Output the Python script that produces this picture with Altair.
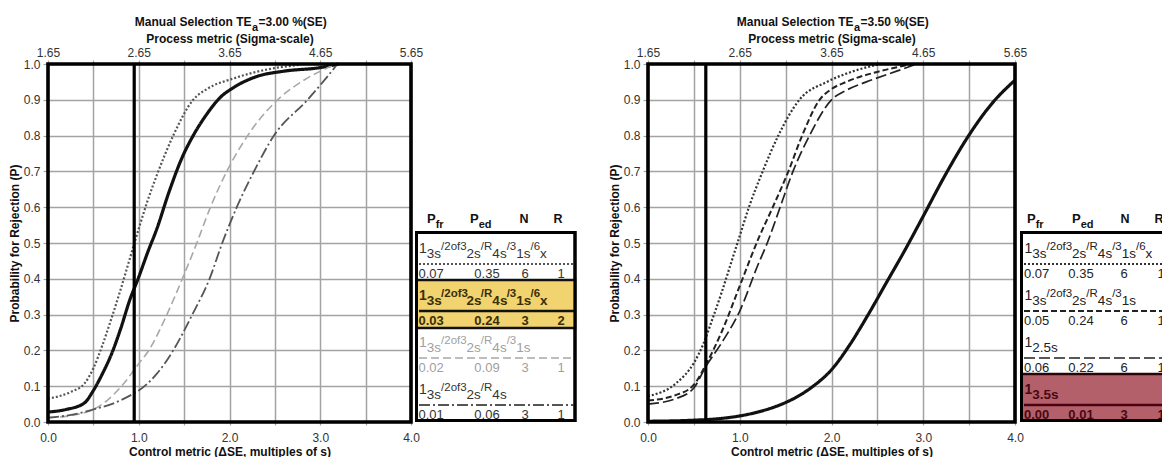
import altair as alt
import pandas as pd

FONT = "Liberation Sans"

# ---------------- data ----------------
# Left panel, TEa = 3.00 %
L_dot_x = [0, 0.25, 0.4, 0.5, 0.6, 0.7, 0.8, 0.9, 1.0, 1.1, 1.2, 1.38, 1.6, 1.75, 2.05, 2.42, 2.79]
L_dot_p = [0.065, 0.084, 0.107, 0.15, 0.215, 0.29, 0.37, 0.455, 0.54, 0.62, 0.69, 0.80, 0.90, 0.93, 0.96, 0.985, 0.998]
L_sol_x = [0, 0.2, 0.4, 0.5, 0.6, 0.7, 0.8, 0.9, 1.0, 1.1, 1.2, 1.33, 1.48, 1.6, 1.75, 1.9, 2.05, 2.3, 2.6, 3.0, 3.2]
L_sol_p = [0.028, 0.035, 0.053, 0.088, 0.135, 0.19, 0.26, 0.34, 0.405, 0.475, 0.54, 0.64, 0.74, 0.80, 0.86, 0.907, 0.935, 0.965, 0.98, 0.99, 1.0]
L_lgt_x = [0, 0.3, 0.5, 0.65, 0.81, 1.0, 1.11, 1.31, 1.48, 1.64, 1.79, 1.97, 2.2, 2.53, 2.79, 3.0, 3.19]
L_lgt_p = [0.012, 0.02, 0.035, 0.06, 0.10, 0.163, 0.20, 0.30, 0.40, 0.50, 0.60, 0.70, 0.80, 0.90, 0.95, 0.98, 1.0]
L_dsh_x = [0, 0.3, 0.5, 0.7, 0.94, 1.0, 1.2, 1.38, 1.59, 1.78, 1.92, 2.08, 2.27, 2.49, 2.86, 3.03, 3.19]
L_dsh_p = [0.012, 0.022, 0.035, 0.05, 0.079, 0.088, 0.135, 0.20, 0.30, 0.40, 0.50, 0.60, 0.70, 0.80, 0.90, 0.95, 1.0]

# Right panel, TEa = 3.50 %
R_dot_x = [0, 0.3, 0.5, 0.6, 0.7, 0.8, 0.9, 1.0, 1.1, 1.25, 1.42, 1.65, 1.95, 2.24, 2.53]
R_dot_p = [0.072, 0.107, 0.165, 0.216, 0.286, 0.36, 0.44, 0.52, 0.60, 0.70, 0.80, 0.90, 0.95, 0.98, 1.0]
R_sd_x = [0, 0.3, 0.5, 0.63, 0.8, 1.0, 1.2, 1.36, 1.53, 1.68, 1.87, 2.0, 2.16, 2.53, 2.89]
R_sd_p = [0.06, 0.075, 0.104, 0.16, 0.25, 0.38, 0.51, 0.60, 0.70, 0.80, 0.90, 0.93, 0.95, 0.98, 1.0]
R_ld_x = [0, 0.3, 0.5, 0.63, 0.8, 1.0, 1.2, 1.3, 1.44, 1.58, 1.76, 2.0, 2.15, 2.38, 2.71, 2.93]
R_ld_p = [0.05, 0.065, 0.095, 0.155, 0.22, 0.31, 0.44, 0.50, 0.60, 0.70, 0.80, 0.90, 0.925, 0.95, 0.98, 1.0]
R_sol_x = [0, 0.5, 0.8, 1.0, 1.2, 1.4, 1.6, 1.8, 2.0, 2.2, 2.4, 2.6, 2.8, 3.0, 3.24, 3.47, 3.75, 4.0]
R_sol_p = [0.002, 0.005, 0.01, 0.017, 0.028, 0.044, 0.067, 0.1, 0.146, 0.216, 0.30, 0.39, 0.48, 0.575, 0.69, 0.79, 0.89, 0.955]

crit_left = 0.95
crit_right = 0.63

# legend tables
left_rules = ["1_3s /2of3_2s /R_4s /3_1s /6_x", "1_3s /2of3_2s /R_4s /3_1s /6_x",
              "1_3s /2of3_2s /R_4s /3_1s", "1_3s /2of3_2s /R_4s"]
left_pfr = ["0.07", "0.03", "0.02", "0.01"]
left_ped = ["0.35", "0.24", "0.09", "0.06"]
left_n = ["6", "3", "3", "3"]
left_r = ["1", "2", "1", "1"]

right_rules = ["1_3s /2of3_2s /R_4s /3_1s /6_x", "1_3s /2of3_2s /R_4s /3_1s", "1_2.5s", "1_3.5s"]
right_pfr = ["0.07", "0.05", "0.06", "0.00"]
right_ped = ["0.35", "0.24", "0.22", "0.01"]
right_n = ["6", "6", "6", "3"]
right_r = ["1", "1", "1", "1"]

# ---------------- styles ----------------
LEFT_STYLES = [
    dict(color="#555555", width=2.2, dash=[2, 2], text="#333333", bold=False),
    dict(color="#111111", width=3.2, dash=[1, 0], text="#3a2e08", bold=True),
    dict(color="#a8a8a8", width=1.6, dash=[8, 4], text="#a0a0a0", bold=False),
    dict(color="#555555", width=1.8, dash=[11, 3, 2, 3], text="#333333", bold=False),
]
RIGHT_STYLES = [
    dict(color="#333333", width=2.2, dash=[2, 2], text="#222222", bold=False),
    dict(color="#222222", width=2.0, dash=[6, 3], text="#222222", bold=False),
    dict(color="#222222", width=1.7, dash=[11, 4], text="#222222", bold=False),
    dict(color="#111111", width=3.2, dash=[1, 0], text="#4a0812", bold=True),
]
LEFT_LEG_LINES = [dict(s) for s in LEFT_STYLES]
RIGHT_LEG_LINES = [dict(s) for s in RIGHT_STYLES]
RIGHT_LEG_LINES[3]["color"] = "#4a0010"

GRID = "#a3a3a3"
PW_L, PW_R, PH = 363, 367, 358

# Arial / Liberation Sans advance widths (em)
ADV = {c: 0.556 for c in "0123456789"}
ADV.update({".": 0.278, "/": 0.278, "s": 0.5, "x": 0.5, "o": 0.556, "f": 0.278,
            "R": 0.722, "P": 0.667, "e": 0.556, "d": 0.556, "r": 0.333})


def tw(s, size):
    return sum(ADV.get(c, 0.556) for c in s) * size


ticks05 = [i * 0.5 for i in range(9)]
ticks01 = [round(i * 0.1, 1) for i in range(11)]


def panel(tag, curves, styles, crit, tea, W, H):
    xs = alt.Scale(domain=[0, 4], nice=False, zero=False)
    ys = alt.Scale(domain=[0, 1], nice=False, zero=False)
    bottom_axis = alt.Axis(
        orient="bottom", values=ticks05,
        labelExpr="datum.value % 1 === 0 ? format(datum.value, '.1f') : ''",
        grid=True, gridColor=GRID, gridWidth=1.5, domain=False,
        ticks=True, tickSize=3, tickColor=GRID, tickWidth=1.2,
        labelPadding=7, labelFont=FONT, labelFontSize=12, labelColor="#333333",
        labelFlush=False, labelOverlap=False,
        title="Control metric (\u0394SE, multiples of s)", titleFont=FONT, titleFontSize=12,
        titleFontWeight="bold", titleColor="#111111", titlePadding=3)
    left_axis = alt.Axis(
        orient="left", values=ticks01, format=".1f",
        grid=True, gridColor=GRID, gridWidth=1.5, domain=False,
        ticks=True, tickSize=5, tickColor=GRID, tickWidth=1.2,
        labelPadding=3, labelFont=FONT, labelFontSize=12, labelColor="#333333",
        labelFlush=False, labelOverlap=False,
        title="Probability for Rejection (P)", titleFont=FONT, titleFontSize=12,
        titleFontWeight="bold", titleColor="#111111", titlePadding=2)
    top_axis = alt.Axis(
        orient="top", values=ticks05,
        labelExpr="datum.value % 1 === 0 ? format(datum.value + 1.65, '.2f') : ''",
        grid=False, domain=False, ticks=True, tickSize=4, tickColor=GRID, tickWidth=1.2,
        labelPadding=1, labelFont=FONT, labelFontSize=12, labelColor="#333333",
        labelFlush=False, labelOverlap=False,
        title="Process metric (Sigma-scale)", titleFont=FONT, titleFontSize=12,
        titleFontWeight="bold", titleColor="#111111", titlePadding=1)

    names, colors, dashes, rows = [], [], [], []
    for k, ((cx, cp), st) in enumerate(zip(curves, styles)):
        nm = "%s%d" % (tag, k)
        names.append(nm)
        colors.append(st["color"])
        dashes.append(st["dash"])
        for i, (a, b) in enumerate(zip(cx, cp)):
            rows.append(dict(x=a, p=b, s=nm, w=st["width"], o=i))
    df = pd.DataFrame(rows)
    curves_layer = alt.Chart(df).mark_line(interpolate="monotone").encode(
        x=alt.X("x:Q", scale=xs, axis=bottom_axis),
        y=alt.Y("p:Q", scale=ys, axis=left_axis),
        color=alt.Color("s:N", scale=alt.Scale(domain=names, range=colors), legend=None),
        strokeDash=alt.StrokeDash("s:N", scale=alt.Scale(domain=names, range=dashes), legend=None),
        strokeWidth=alt.StrokeWidth("w:Q", scale=None),
        detail="s:N",
        order="o:Q",
    )

    rule = alt.Chart(pd.DataFrame({"x": [crit]})).mark_rule(
        color="black", strokeWidth=3.2).encode(x=alt.X("x:Q", scale=xs, axis=top_axis))

    frame = alt.Chart(pd.DataFrame({"d": [0]})).mark_rect(
        fillOpacity=0, stroke="black", strokeWidth=3.6).encode(
        x=alt.value(0), x2=alt.value(W), y=alt.value(0), y2=alt.value(H))

    cxm = W / 2
    t1 = alt.Chart(pd.DataFrame({"t": ["Manual Selection  TE"]})).mark_text(
        font=FONT, fontSize=12, fontWeight="bold", align="right", baseline="alphabetic",
        color="#111111").encode(x=alt.value(cxm + 22), y=alt.value(-38), text="t:N")
    t2 = alt.Chart(pd.DataFrame({"t": ["a"]})).mark_text(
        font=FONT, fontSize=11, fontWeight="bold", align="left", baseline="alphabetic",
        color="#111111").encode(x=alt.value(cxm + 22.5), y=alt.value(-33), text="t:N")
    t3 = alt.Chart(pd.DataFrame({"t": ["=" + tea + " %(SE)"]})).mark_text(
        font=FONT, fontSize=12, fontWeight="bold", align="left", baseline="alphabetic",
        color="#111111").encode(x=alt.value(cxm + 29), y=alt.value(-38), text="t:N")

    return alt.layer(curves_layer, rule, frame, t1, t2, t3).properties(width=W, height=H)


# ---------------- legend tables ----------------
ROW0, ROWH = 170, 47


def legend(rules, pfr, ped, n, r, styles, lines, W, H, hl_row, hl_fill, hl_stroke, cols, clip):
    xs = alt.Scale(domain=[0, W], nice=False, zero=False)
    ys = alt.Scale(domain=[0, H], nice=False, zero=False, reverse=True)
    X = lambda f: alt.X(f, scale=xs, axis=None)
    Y = lambda f: alt.Y(f, scale=ys, axis=None)

    texts = []
    hy = 159
    texts.append(dict(x=cols["h_pfr"], y=hy, t="P", fs=13, c="#111111", b=True, a="left"))
    texts.append(dict(x=cols["h_pfr"] + tw("P", 13), y=hy + 5, t="fr", fs=11, c="#111111", b=True, a="left"))
    texts.append(dict(x=cols["h_ped"], y=hy, t="P", fs=13, c="#111111", b=True, a="left"))
    texts.append(dict(x=cols["h_ped"] + tw("P", 13), y=hy + 5, t="ed", fs=11, c="#111111", b=True, a="left"))
    texts.append(dict(x=cols["h_n"], y=hy, t="N", fs=12.5, c="#111111", b=True, a="center"))
    texts.append(dict(x=cols["h_r"], y=hy, t="R", fs=12.5, c="#111111", b=True, a="center"))

    line_rows = []
    for i, rule in enumerate(rules):
        top = ROW0 + i * ROWH
        st = styles[i]
        x = cols["text"]
        for k, tok in enumerate(rule.split(" ")):
            main, sub = tok.split("_")
            if k == 0:
                size, dy = 14, 19
            else:
                size, dy = 11.5, 16
            texts.append(dict(x=x, y=top + dy, t=main, fs=size, c=st["text"], b=st["bold"], a="left"))
            x += tw(main, size)
            texts.append(dict(x=x, y=top + 24, t=sub, fs=13.5, c=st["text"], b=st["bold"], a="left"))
            x += tw(sub, 13.5)
        ny = top + 43.5
        texts.append(dict(x=cols["pfr"], y=ny, t=pfr[i], fs=13, c=st["text"], b=st["bold"], a="left"))
        texts.append(dict(x=cols["ped"], y=ny, t=ped[i], fs=13, c=st["text"], b=st["bold"], a="center"))
        texts.append(dict(x=cols["n"], y=ny, t=n[i], fs=13, c=st["text"], b=st["bold"], a="center"))
        texts.append(dict(x=cols["r"], y=ny, t=r[i], fs=13, c=st["text"], b=st["bold"], a="center"))
        line_rows.append((top + 30, lines[i]))

    layers = []
    box = pd.DataFrame({"x": [cols["bx0"]], "x2": [cols["bx1"]],
                        "y": [ROW0 - 1.5], "y2": [H - 1.5]})
    layers.append(alt.Chart(box).mark_rect(fill="white", stroke="black", strokeWidth=3, clip=clip)
                  .encode(x=X("x:Q"), x2="x2", y=Y("y:Q"), y2="y2"))
    hl = pd.DataFrame({"x": [cols["bx0"]], "x2": [cols["bx1"]],
                       "y": [ROW0 + hl_row * ROWH - 1], "y2": [min(ROW0 + (hl_row + 1) * ROWH, H - 1.5)]})
    layers.append(alt.Chart(hl).mark_rect(fill=hl_fill, stroke=hl_stroke, strokeWidth=2.5, clip=clip)
                  .encode(x=X("x:Q"), x2="x2", y=Y("y:Q"), y2="y2"))
    for ly, st in line_rows:
        df = pd.DataFrame({"x": [cols["l0"]], "x2": [cols["l1"]], "y": [ly]})
        kw = dict(color=st["color"], strokeWidth=min(st["width"], 2.6), clip=clip)
        if st["dash"] != [1, 0]:
            kw["strokeDash"] = st["dash"]
        layers.append(alt.Chart(df).mark_rule(**kw).encode(x=X("x:Q"), x2="x2", y=Y("y:Q")))
    tdf = pd.DataFrame(texts)
    for a in ["left", "center"]:
        for b in [False, True]:
            sub = tdf[(tdf.a == a) & (tdf.b == b)]
            if len(sub) == 0:
                continue
            layers.append(alt.Chart(sub).mark_text(
                font=FONT, align=a, baseline="alphabetic", fontWeight="bold" if b else "normal",
                clip=clip).encode(
                x=X("x:Q"), y=Y("y:Q"), text="t:N",
                size=alt.Size("fs:Q", scale=None), color=alt.Color("c:N", scale=None)))
    layers.append(alt.Chart(box).mark_rect(fillOpacity=0, stroke="black", strokeWidth=3, clip=clip)
                  .encode(x=X("x:Q"), x2="x2", y=Y("y:Q"), y2="y2"))
    return alt.layer(*layers).properties(width=W, height=H)


left_panel = panel("L", [(L_dot_x, L_dot_p), (L_sol_x, L_sol_p), (L_lgt_x, L_lgt_p), (L_dsh_x, L_dsh_p)],
                   LEFT_STYLES, crit_left, "3.00", PW_L, PH)
right_panel = panel("R", [(R_dot_x, R_dot_p), (R_sd_x, R_sd_p), (R_ld_x, R_ld_p), (R_sol_x, R_sol_p)],
                    RIGHT_STYLES, crit_right, "3.50", PW_R, PH)

LW1, LW2 = 229, 143
left_cols = dict(h_pfr=12, h_ped=55, h_n=109, h_r=143, text=4, pfr=3.5, ped=72, n=110, r=146,
                 l0=4, l1=159, bx0=1.5, bx1=160)
right_cols = dict(h_pfr=8, h_ped=53, h_n=106, h_r=140, text=5.5, pfr=5, ped=62, n=105, r=142,
                  l0=5, l1=170, bx0=2.5, bx1=175)

left_leg = legend(left_rules, left_pfr, left_ped, left_n, left_r, LEFT_STYLES, LEFT_LEG_LINES,
                  LW1, PH, 1, "#f1d36f", "#111111", left_cols, False)
right_leg = legend(right_rules, right_pfr, right_ped, right_n, right_r, RIGHT_STYLES, RIGHT_LEG_LINES,
                   LW2, PH, 3, "#b4606b", "#2a0508", right_cols, True)

chart = alt.hconcat(left_panel, left_leg, right_panel, right_leg, spacing=4, bounds="flush").resolve_scale(
    color="independent", strokeDash="independent"
).properties(
    padding={"left": 0, "top": 8, "right": 0, "bottom": 0}, background="white"
).configure_view(strokeWidth=0)

chart.save("out.html", embed_options={"renderer": "svg", "actions": False})
